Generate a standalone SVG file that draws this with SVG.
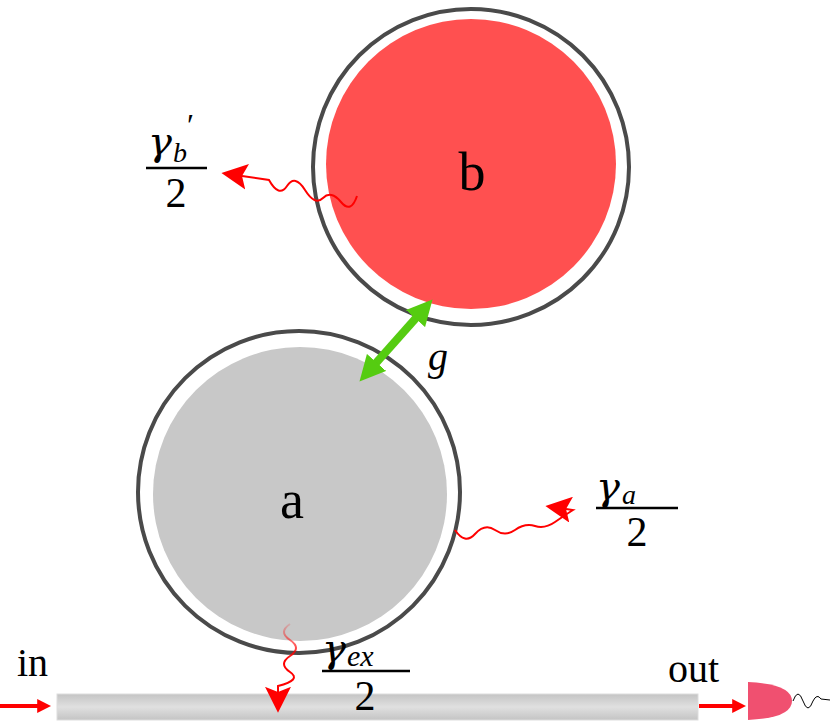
<svg xmlns="http://www.w3.org/2000/svg" width="830" height="722" viewBox="0 0 830 722">
<defs>
<linearGradient id="wg" x1="0" y1="0" x2="0" y2="1"><stop offset="0" stop-color="#c4c4c4"/><stop offset="0.5" stop-color="#e0e0e0"/><stop offset="1" stop-color="#c4c4c4"/></linearGradient>
<linearGradient id="fade" gradientUnits="userSpaceOnUse" x1="0" y1="622" x2="0" y2="660"><stop offset="0" stop-color="#ff0000" stop-opacity="0.1"/><stop offset="1" stop-color="#ff0000" stop-opacity="1"/></linearGradient>
<marker id="ah" viewBox="0 0 10 10" refX="2" refY="5" markerUnits="userSpaceOnUse" markerWidth="26" markerHeight="26" orient="auto"><path d="M0,0 L10,5 L0,10 L2,5 Z" fill="#ff0000"/></marker>
<marker id="ahs" viewBox="0 0 10 10" refX="2" refY="5" markerUnits="userSpaceOnUse" markerWidth="14" markerHeight="14" orient="auto"><path d="M0,0 L10,5 L0,10 Z" fill="#ff0000"/></marker>
<marker id="gh" viewBox="0 0 10 10" refX="5" refY="5" markerWidth="3.2" markerHeight="3.2" orient="auto-start-reverse"><path d="M0,0 L10,5 L0,10 Z" fill="#55cc11"/></marker>
</defs>
<style>
.ring{fill:#fff;stroke:#4a4a4a;stroke-width:4}
.wave{fill:none;stroke:#ff0000;stroke-width:2}
.t{font-family:"Liberation Serif",serif;fill:#000}
.m{font-family:"Liberation Serif",serif;font-style:italic;fill:#000}
.g{font-family:"DejaVu Serif",serif;font-style:italic;fill:#000}
</style>
<g id="ring-b"><circle class="ring" cx="471" cy="167" r="158"/><circle cx="471" cy="164" r="145" fill="#ff5050"/><text class="t" x="472" y="190" font-size="54" text-anchor="middle">b</text></g>
<g id="ring-a"><circle class="ring" cx="299" cy="492" r="161"/><circle cx="300" cy="494" r="147" fill="#c8c8c8"/><text class="t" x="292" y="518" font-size="54" text-anchor="middle">a</text></g>
<g id="waveguide"><rect x="57" y="694" width="641" height="26" fill="url(#wg)" stroke="#ddd"/></g>
<g id="detector"><path d="M748,682 Q792,684 792,701 Q792,718 748,720 Z" fill="#f05070"/><path d="M793,701 q5,-14 10,0 t10,0 q4,-8 8,-2 L830,700" fill="none" stroke="#000" stroke-width="1"/></g>
<g id="connectors">
<line x1="0" y1="706" x2="40" y2="706" stroke="#ff0000" stroke-width="4" marker-end="url(#ahs)"/>
<line x1="699" y1="706" x2="735" y2="706" stroke="#ff0000" stroke-width="4" marker-end="url(#ahs)"/>
<line x1="424" y1="309" x2="368" y2="372" stroke="#55cc11" stroke-width="8" marker-start="url(#gh)" marker-end="url(#gh)"/>
<path class="wave" d="M455,530 q10,15 20,4 t20,-4 t20,0 t20,-4 t20,-4 t18,-12 L566,509" marker-end="url(#ah)"/>
<path class="wave" d="M357,196 q-6,18 -16,6 t-18,-4 t-18,-8 t-18,-4 t-18,-6 L242,176" marker-end="url(#ah)"/>
<path d="M290,624 q-12,8 0,16 t0,16 t0,16 t-12,14 L278,692" fill="none" stroke="url(#fade)" stroke-width="2" marker-end="url(#ah)"/>
</g>
<g id="labels">
<text class="m" x="428" y="370" font-size="40">g</text>
<text class="t" x="17" y="676" font-size="40">in</text>
<text class="t" x="668" y="682" font-size="40">out</text>
<g><text class="g" x="596" y="500" font-size="40">γ</text><text class="m" x="622" y="504" font-size="28">a</text><line x1="596" y1="508" x2="678" y2="508" stroke="#000" stroke-width="2.5"/><text class="t" x="637" y="546" font-size="42" text-anchor="middle">2</text></g>
<g><text class="g" x="148" y="155" font-size="40">γ</text><text class="m" x="173" y="162" font-size="28">b</text><text class="t" x="187" y="136" font-size="32">′</text><line x1="146" y1="168" x2="207" y2="168" stroke="#000" stroke-width="2.5"/><text class="t" x="176" y="207" font-size="42" text-anchor="middle">2</text></g>
<g><text class="g" x="322" y="662" font-size="40">γ</text><text class="m" x="347" y="666" font-size="30">ex</text><line x1="322" y1="671" x2="410" y2="671" stroke="#000" stroke-width="2.5"/><text class="t" x="365" y="710" font-size="42" text-anchor="middle">2</text></g>
</g>
</svg>
